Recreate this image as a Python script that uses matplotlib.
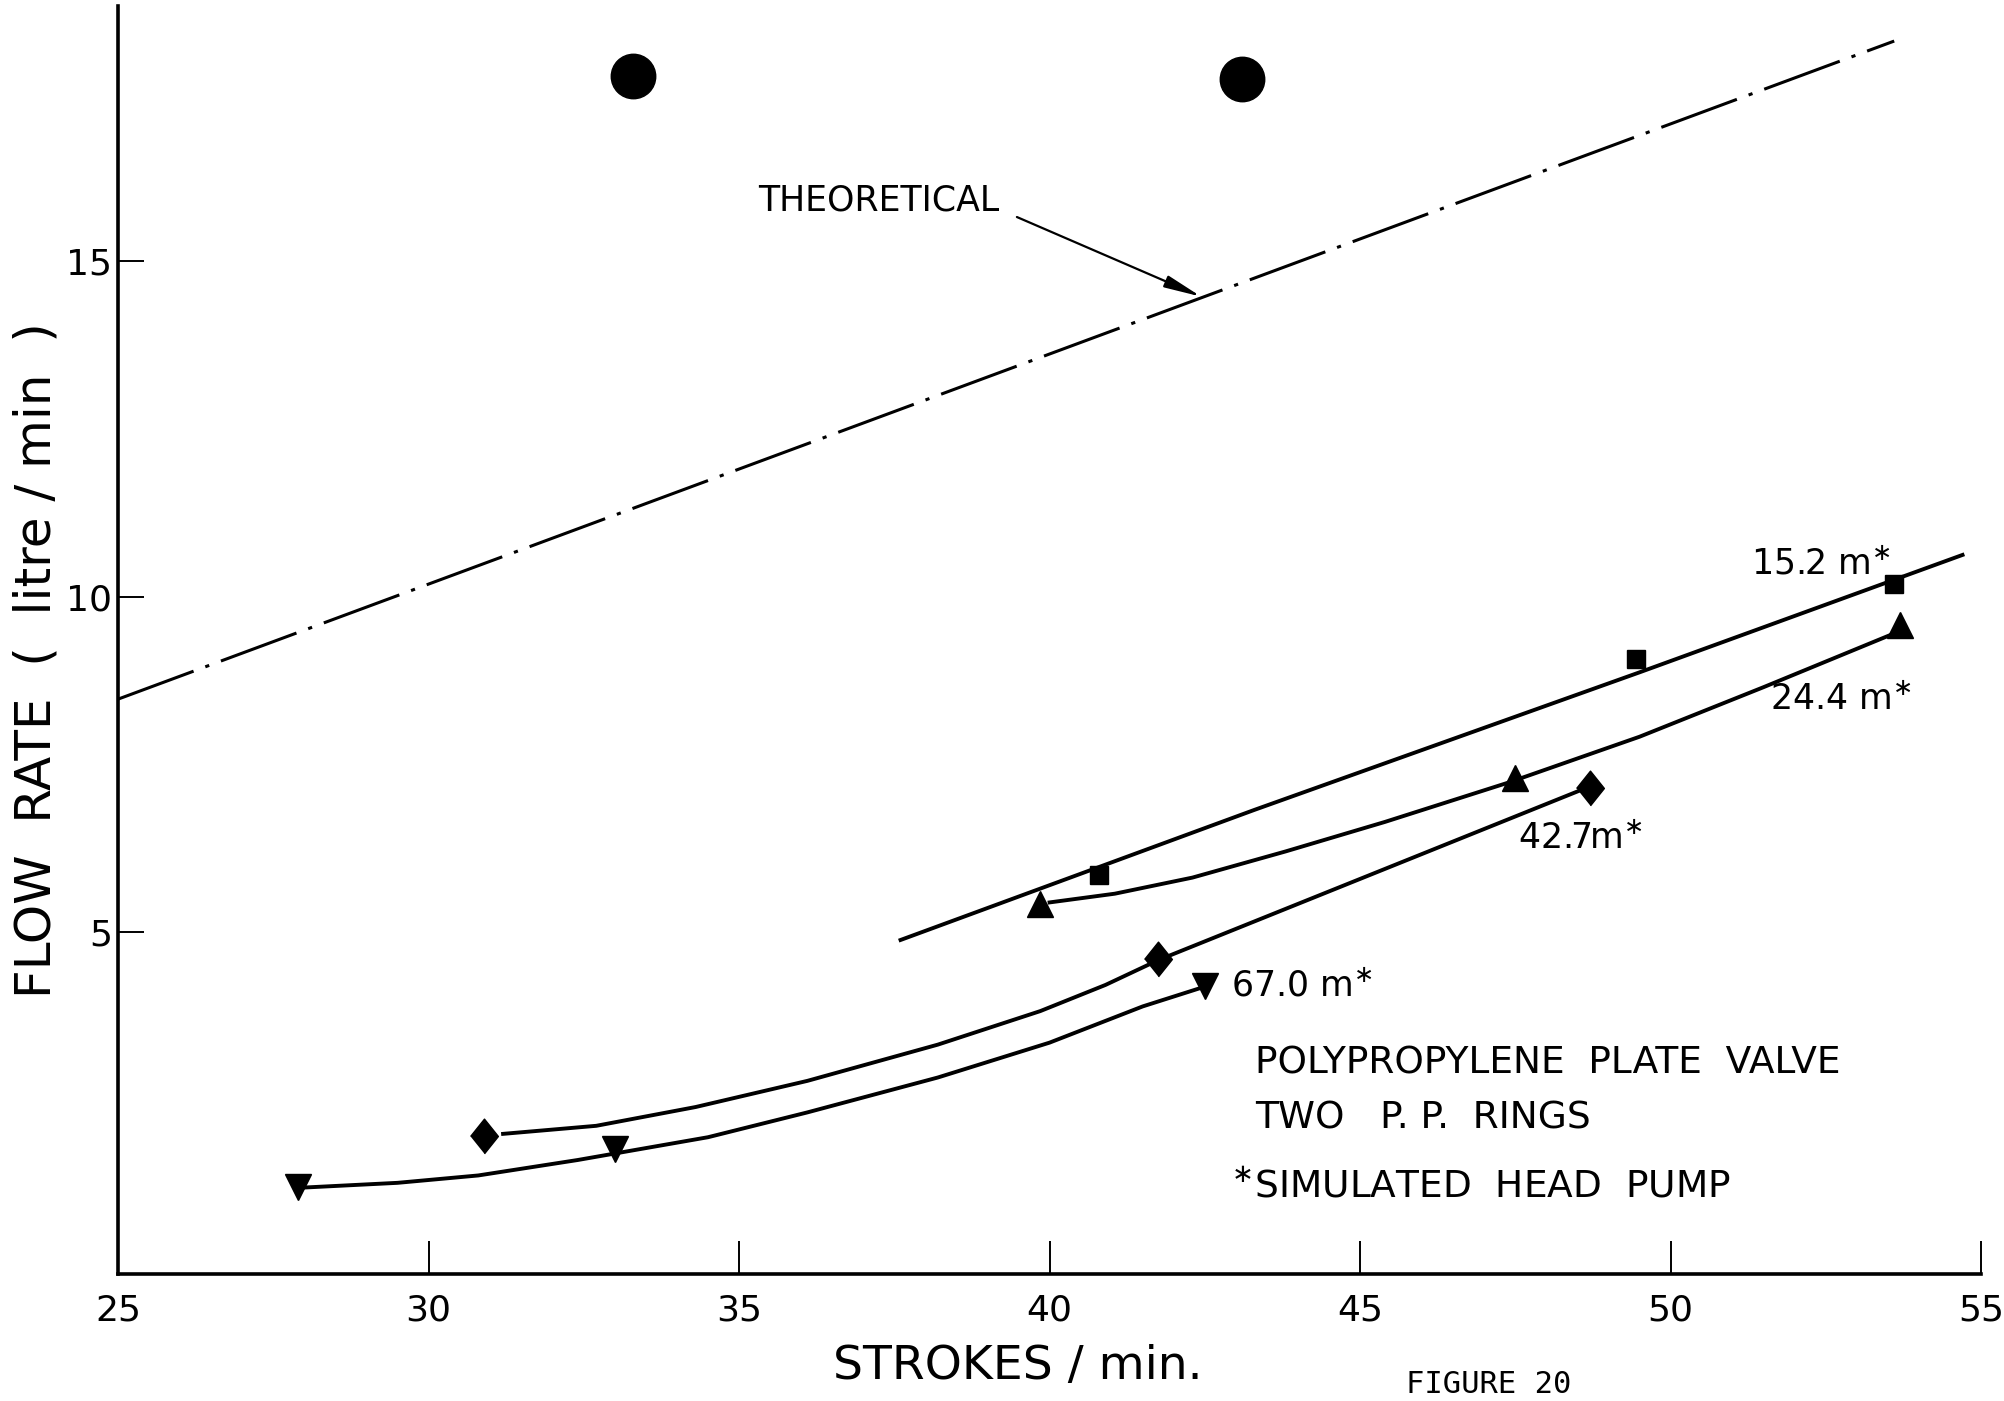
import matplotlib
matplotlib.use('Agg')
import matplotlib.pyplot as plt

plt.rcParams['font.family'] = ['DejaVu Sans']
plt.rcParams['lines.scale_dashes'] = False

# theoretical line (end points)
theo_x = [25.0, 53.6]
theo_y = [8.47, 18.28]

# two large dots at the top
dot_x = [33.3, 43.1]
dot_y = [17.76, 17.72]

# 15.2 m head - squares
sq_x = [40.8, 49.45, 53.6]
sq_y = [5.85, 9.07, 10.19]
sq_fit_x = [37.6, 43.3, 49.5, 54.7]
sq_fit_y = [4.88, 6.82, 8.87, 10.62]

# 24.4 m head - triangles up
tri_x = [39.85, 47.5, 53.7]
tri_y = [5.42, 7.30, 9.58]
tri_fit_x = [40.0, 41.05, 42.3, 43.8, 45.4, 47.4, 49.5, 51.5, 53.6]
tri_fit_y = [5.44, 5.57, 5.81, 6.20, 6.64, 7.23, 7.91, 8.65, 9.45]

# 42.7 m head - diamonds
dia_x = [30.9, 41.75, 48.7]
dia_y = [1.96, 4.60, 7.15]
dia_fit_x = [31.2, 32.7, 34.3, 36.1, 38.2, 39.85, 40.9, 41.75, 48.65]
dia_fit_y = [1.99, 2.11, 2.39, 2.78, 3.32, 3.82, 4.21, 4.58, 7.15]

# 67.0 m head - triangles down
tdn_x = [27.9, 33.0, 42.5]
tdn_y = [1.20, 1.77, 4.20]
tdn_fit_x = [28.0, 29.5, 30.8, 32.4, 34.5, 36.1, 38.2, 40.0, 41.5, 42.45]
tdn_fit_y = [1.19, 1.26, 1.37, 1.60, 1.94, 2.31, 2.83, 3.35, 3.89, 4.17]

xticks = [25, 30, 35, 40, 45, 50, 55]
yticks = [5, 10, 15]

fig = plt.figure(figsize=(20.04, 14.01), dpi=100)
ax = fig.add_axes([0.0589, 0.0906, 0.9297, 0.905])
ax.set_xlim(25, 55)
ax.set_ylim(-0.1, 18.8)

for s in ['top', 'right']:
    ax.spines[s].set_visible(False)
for s in ['left', 'bottom']:
    ax.spines[s].set_linewidth(2.6)

ax.set_xticks(xticks)
ax.set_yticks(yticks)
ax.tick_params(axis='x', direction='in', length=24, width=1.4, pad=14, labelsize=26)
ax.tick_params(axis='y', direction='in', length=19, width=1.4, pad=4, labelsize=26)

# theoretical
ln, = ax.plot(theo_x, theo_y, color='black', lw=2.2)
ln.set_dashes([58, 9, 3, 9])
ax.annotate('THEORETICAL', xy=(42.44, 14.47), xytext=(35.3, 15.9),
            fontsize=25, va='center', ha='left',
            arrowprops=dict(arrowstyle='-|>,head_length=0.9,head_width=0.15',
                            color='black', lw=1.6, relpos=(1.0, 0.25),
                            shrinkA=12, shrinkB=0))

ax.plot(dot_x, dot_y, 'o', color='black', ms=32)

diamond = [(-0.8, 0), (0, 1), (0.8, 0), (0, -1)]
lw = 2.8
ax.plot(sq_fit_x, sq_fit_y, color='black', lw=lw)
ax.plot(sq_x, sq_y, 's', color='black', ms=13)
ax.plot(tri_fit_x, tri_fit_y, color='black', lw=lw)
ax.plot(tri_x, tri_y, '^', color='black', ms=19)
ax.plot(dia_fit_x, dia_fit_y, color='black', lw=lw)
ax.plot(dia_x, dia_y, marker=diamond, ls='none', color='black', ms=25)
ax.plot(tdn_fit_x, tdn_fit_y, color='black', lw=lw)
ax.plot(tdn_x, tdn_y, 'v', color='black', ms=19)

lab_fs = 25
ax.text(51.3, 10.47, '15.2 m$^{\\ast}$', fontsize=lab_fs, va='center')
ax.text(51.6, 8.45, '24.4 m$^{\\ast}$', fontsize=lab_fs, va='center')
ax.text(47.55, 6.39, '42.7m$^{\\ast}$', fontsize=lab_fs, va='center')
ax.text(42.92, 4.18, '67.0 m$^{\\ast}$', fontsize=lab_fs, va='center')

note_fs = 27
ax.text(43.31, 3.04, 'POLYPROPYLENE  PLATE  VALVE', fontsize=note_fs, va='center')
ax.text(43.31, 2.22, 'TWO   P. P.  RINGS', fontsize=note_fs, va='center')
ax.text(42.92, 1.19, '$^{\\ast}$SIMULATED  HEAD  PUMP', fontsize=note_fs, va='center')

ax.text(0.483, -0.073, 'STROKES / min.', transform=ax.transAxes,
        fontsize=34, ha='center', va='center')
ax.text(-0.044, 0.484, 'FLOW  RATE  (  litre / min  )', transform=ax.transAxes,
        fontsize=36, ha='center', va='center', rotation=90)

fig.text(0.743, 0.012, 'FIGURE 20', fontsize=22, family='DejaVu Sans Mono',
         ha='center', va='center')

fig.savefig('out.png', dpi=100)
